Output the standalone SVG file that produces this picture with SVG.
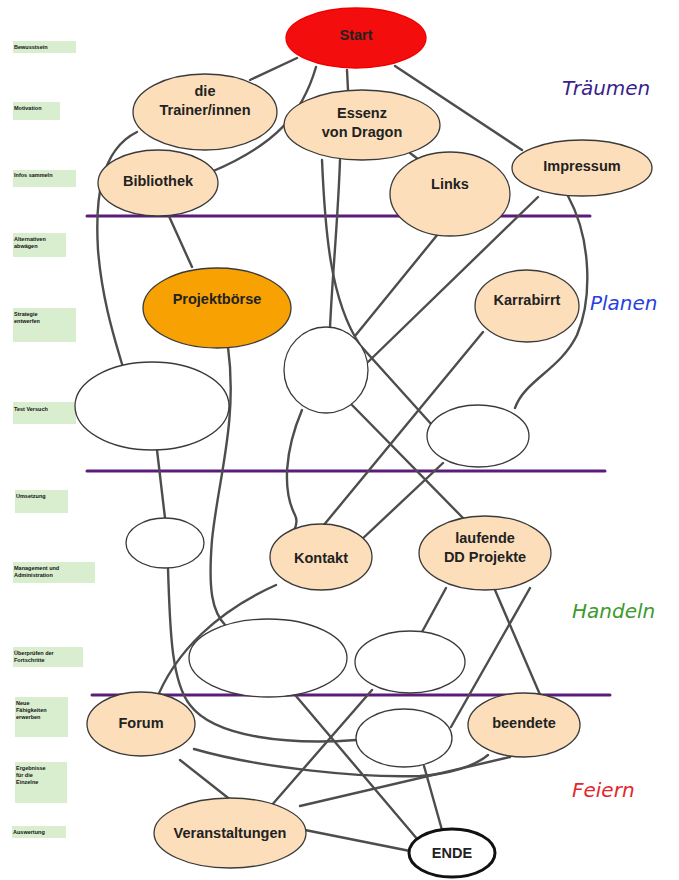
<svg xmlns="http://www.w3.org/2000/svg" width="679" height="880" viewBox="0 0 679 880">
<style>
.lbl rect{fill:#d9edcf}
.lbl text{font-family:"Liberation Sans",Arial,sans-serif;font-size:5.5px;font-weight:bold;fill:#111}
.n ellipse{fill:#fcdfba;stroke:#3a3a3a;stroke-width:1.3}
.b ellipse{fill:#fff;stroke:#3a3a3a;stroke-width:1.3}
.t{font-family:"Liberation Sans",Arial,sans-serif;font-size:14.5px;font-weight:bold;fill:#222;text-anchor:middle}
.c path{fill:none;stroke:#4d4d4d;stroke-width:2.4;stroke-linecap:round}
.sep line{stroke:#5c1d78;stroke-width:3;stroke-linecap:round}
.ph{font-family:"DejaVu Sans",sans-serif;font-size:20px;font-style:italic}
</style>
<rect width="679" height="880" fill="#fff"/>
<g id="labels" class="lbl">
<rect x="13" y="41" width="63" height="12"/><text x="14" y="49">Bewusstsein</text>
<rect x="13" y="102" width="47" height="18"/><text x="14" y="110">Motivation</text>
<rect x="13" y="170" width="63" height="17"/><text x="14" y="177">Infos sammeln</text>
<rect x="13" y="233" width="53" height="24"/><text x="14" y="241">Alternativen</text><text x="14" y="248">abwägen</text>
<rect x="13" y="308" width="63" height="34"/><text x="14" y="316">Strategie</text><text x="14" y="323">entwerfen</text>
<rect x="13" y="402" width="63" height="22"/><text x="14" y="411">Test Versuch</text>
<rect x="15" y="490" width="53" height="23"/><text x="16" y="498">Umsetzung</text>
<rect x="13" y="562" width="82" height="21"/><text x="14" y="570">Management und</text><text x="14" y="577">Administration</text>
<rect x="13" y="647" width="70" height="20"/><text x="14" y="655">Überprüfen der</text><text x="14" y="662">Fortschritte</text>
<rect x="15" y="697" width="53" height="40"/><text x="16" y="705">Neue</text><text x="16" y="712">Fähigkeiten</text><text x="16" y="719">erwerben</text>
<rect x="15" y="762" width="52" height="41"/><text x="16" y="770">Ergebnisse</text><text x="16" y="777">für die</text><text x="16" y="784">Einzelne</text>
<rect x="12" y="826" width="54" height="12"/><text x="13" y="834">Auswertung</text>
</g>
<g id="separators" class="sep">
<line x1="87" y1="216" x2="590" y2="216"/>
<line x1="87" y1="471" x2="605" y2="471"/>
<line x1="92" y1="695" x2="610" y2="695"/>
</g>
<g id="phases">
<text class="ph" x="562" y="95" fill="#3a1f8c">Träumen</text>
<text class="ph" x="590" y="310" fill="#2a3fe0">Planen</text>
<text class="ph" x="572" y="618" fill="#3d9a2b">Handeln</text>
<text class="ph" x="572" y="797" fill="#e3262a">Feiern</text>
</g>
<g id="connectors" class="c">
<path d="M297,58 L250,80"/>
<path d="M316,67 C302,115 275,145 211,172"/>
<path d="M347,70 L348,90"/>
<path d="M395,66 L522,150"/>
<path d="M137,132 C100,150 95,200 98,250 C102,300 115,340 122,364"/>
<path d="M168,214 L192,267"/>
<path d="M340,160 C338,220 332,280 330,328"/>
<path d="M322,160 C325,230 330,300 360,345 L432,425"/>
<path d="M410,153 L427,166"/>
<path d="M438,234 L355,336"/>
<path d="M538,197 L368,362"/>
<path d="M568,196 C592,240 592,300 577,335 C560,370 525,380 515,408"/>
<path d="M483,332 L323,526"/>
<path d="M443,463 L360,541"/>
<path d="M352,405 L463,518"/>
<path d="M302,410 C285,450 282,490 295,515 C300,525 292,535 285,542"/>
<path d="M228,347 C238,420 218,480 212,540 C208,590 212,612 226,626"/>
<path d="M157,450 L165,518"/>
<path d="M168,569 C170,620 170,680 190,705 C215,738 290,745 356,740"/>
<path d="M276,585 C220,610 175,650 155,703"/>
<path d="M446,588 L422,632"/>
<path d="M530,588 L451,727"/>
<path d="M495,590 L541,697"/>
<path d="M296,696 L418,840"/>
<path d="M372,690 L271,806"/>
<path d="M194,749 C260,768 360,778 420,776 C450,774 475,766 488,755"/>
<path d="M180,760 L232,801"/>
<path d="M300,806 L510,757"/>
<path d="M305,830 L410,851"/>
<path d="M424,766 L442,830"/>
</g>
<g id="start"><ellipse cx="356" cy="38" rx="70" ry="30" fill="#f40d0d" stroke="#e00" stroke-width="1.3"/><text class="t" x="356" y="40">Start</text></g>
<g id="trainer" class="n"><ellipse cx="205" cy="112" rx="72" ry="38"/><text class="t" x="205" y="96">die</text><text class="t" x="205" y="115">Trainer/innen</text></g>
<g id="essenz" class="n"><ellipse cx="362" cy="125" rx="78" ry="35"/><text class="t" x="362" y="118">Essenz</text><text class="t" x="362" y="137">von Dragon</text></g>
<g id="bibliothek" class="n"><ellipse cx="158" cy="183" rx="60" ry="33"/><text class="t" x="158" y="186">Bibliothek</text></g>
<g id="links" class="n"><ellipse cx="450" cy="194" rx="60" ry="42"/><text class="t" x="450" y="189">Links</text></g>
<g id="impressum" class="n"><ellipse cx="582" cy="168" rx="70" ry="28"/><text class="t" x="582" y="171">Impressum</text></g>
<g id="projektboerse"><ellipse cx="217" cy="308" rx="74" ry="40" fill="#f7a102" stroke="#3a3a3a" stroke-width="1.3"/><text class="t" x="217" y="304">Projektbörse</text></g>
<g id="karrabirrt" class="n"><ellipse cx="527" cy="306" rx="52" ry="36"/><text class="t" x="527" y="305">Karrabirrt</text></g>
<g id="blankA" class="b"><ellipse cx="326" cy="370" rx="42" ry="43"/></g>
<g id="blankLeft" class="b"><ellipse cx="152" cy="406" rx="77" ry="44"/></g>
<g id="blankRight" class="b"><ellipse cx="478" cy="436" rx="51" ry="31"/></g>
<g id="blankSmall" class="b"><ellipse cx="165" cy="543" rx="39" ry="25"/></g>
<g id="kontakt" class="n"><ellipse cx="321" cy="557" rx="51" ry="33"/><text class="t" x="321" y="563">Kontakt</text></g>
<g id="laufende" class="n"><ellipse cx="485" cy="553" rx="66" ry="37"/><text class="t" x="485" y="543">laufende</text><text class="t" x="485" y="562">DD Projekte</text></g>
<g id="blankMid" class="b"><ellipse cx="268" cy="658" rx="79" ry="39"/></g>
<g id="blankMidRight" class="b"><ellipse cx="410" cy="662" rx="55" ry="31"/></g>
<g id="forum" class="n"><ellipse cx="141" cy="724" rx="54" ry="32"/><text class="t" x="141" y="728">Forum</text></g>
<g id="blankLow" class="b"><ellipse cx="404" cy="738" rx="48" ry="29"/></g>
<g id="beendete" class="n"><ellipse cx="524" cy="725" rx="56" ry="32"/><text class="t" x="524" y="728">beendete</text></g>
<g id="veranstaltungen" class="n"><ellipse cx="230" cy="833" rx="76" ry="35"/><text class="t" x="230" y="838">Veranstaltungen</text></g>
<g id="ende"><ellipse cx="452" cy="853" rx="43" ry="24" fill="#fff" stroke="#111" stroke-width="3"/><text class="t" x="452" y="858">ENDE</text></g>
</svg>
